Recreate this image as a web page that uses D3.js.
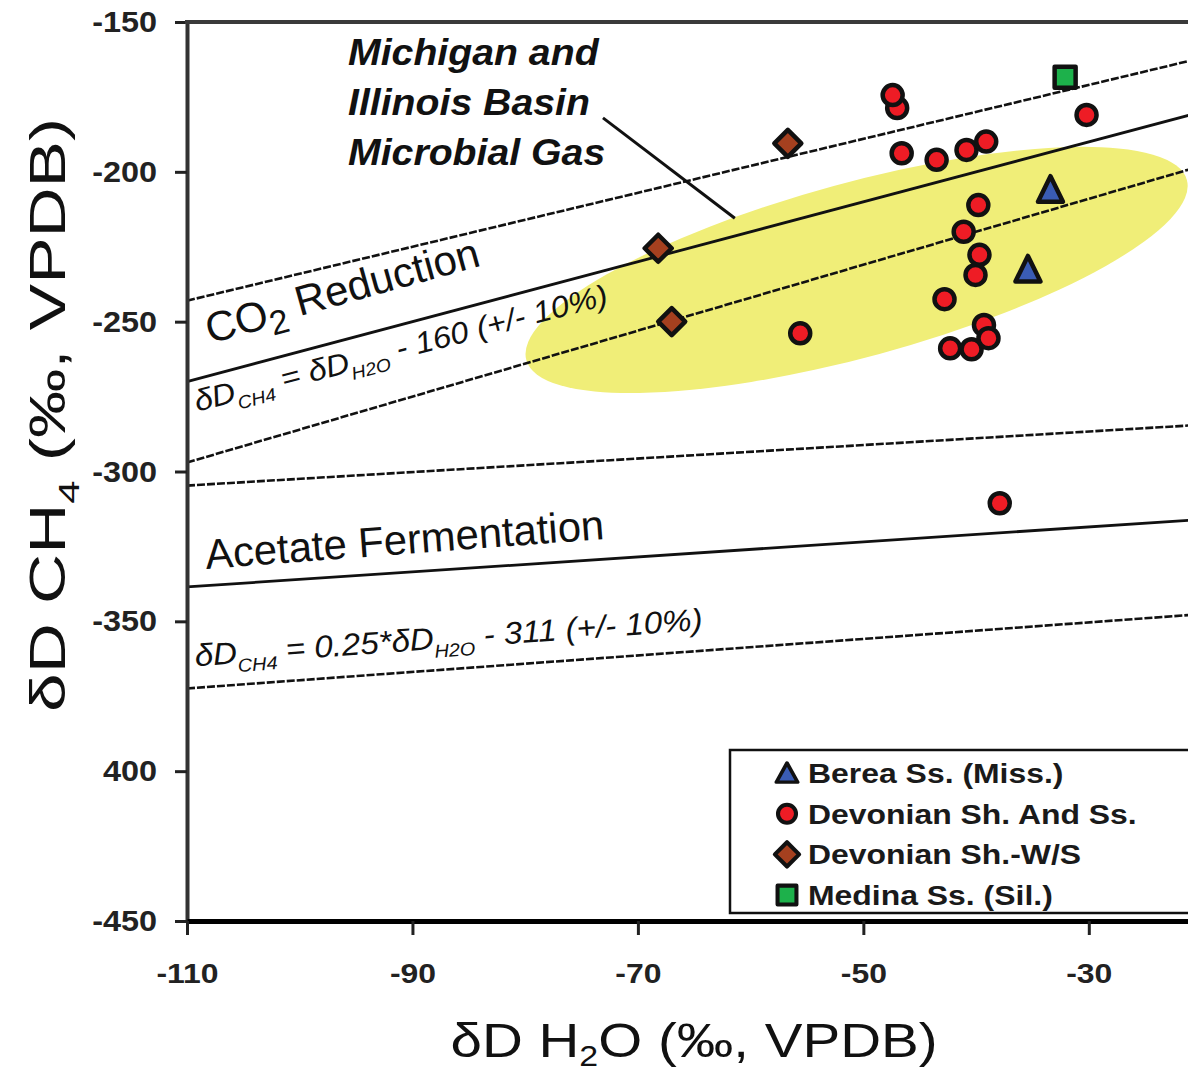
<!DOCTYPE html>
<html>
<head>
<meta charset="utf-8">
<script src="https://cdn.jsdelivr.net/npm/d3@7"></script>
<style>
  body { margin: 0; background: #fff; }
  svg { display: block; font-family: "Liberation Sans", Arial, sans-serif; }
</style>
</head>
<body>
<svg id="chart" width="1188" height="1072"></svg>
<script>
/* Data */
const xTicks = [-110, -90, -70, -50, -30];
const yTicks = [-150, -200, -250, -300, -350, -400, -450];
const yTickLabels = ['-150', '-200', '-250', '-300', '-350', '400', '-450'];

// [dD H2O, dD CH4]
const berea = [[-33.4, -206.8], [-35.4, -233.4]];
const devonian = [
  [-47.0, -178.7], [-47.4, -174.4], [-30.2, -181.0], [-46.6, -193.8],
  [-43.5, -196.0], [-40.85, -192.7], [-39.1, -189.9], [-39.8, -211.1],
  [-41.1, -220.0], [-39.7, -227.7], [-40.05, -234.4], [-42.8, -242.5],
  [-55.6, -253.9], [-42.3, -258.9], [-40.4, -259.2], [-39.3, -251.1],
  [-38.9, -255.5], [-37.9, -310.6]
];
const devonianWS = [[-56.7, -190.5], [-68.2, -225.5], [-67.0, -250.0]];
const medina = [[-32.1, -168.4]];

const legendLabels = ['Berea Ss. (Miss.)', 'Devonian Sh. And Ss.', 'Devonian Sh.-W/S', 'Medina Ss. (Sil.)'];
const legendShapes = ['triangle', 'circle', 'diamond', 'square'];

// reference lines, values read at dD H2O = -110 and -20
const lineX = [-110, -20];
const co2Upper = [-243, -162];
const co2Mid = [-270, -180];
const co2Lower = [-297, -198];
const acUpper = [-304.7, -284.4];
const acMid = [-338.5, -316];
const acLower = [-372.4, -347.6];

// yellow field: ends of its long axis
const fieldX = [-79.9, -21.3];
const fieldY = [-262.8, -202.7];

// leader from the annotation to the CO2 line
const leaderX = [-73.1, -61.4];
const leaderY = [-182.0, -215.5];

/* Setup */
const svg = d3.select('#chart');
const x = d3.scaleLinear().domain([-110, -21.2]).range([187, 1188]);
const y = d3.scaleLinear().domain([-150, -450]).range([22, 921]);

const colors = { triangle: '#3a5cb4', circle: '#ee1c25', diamond: '#a5401f', square: '#1db14b' };

function stretch(sel, k) {
  sel.each(function () {
    const len = this.getComputedTextLength();
    d3.select(this).attr('textLength', len * k).attr('lengthAdjust', 'spacingAndGlyphs');
  });
}

function markerPath(shape) {
  if (shape === 'triangle') return 'M0,-16L12.5,9.5L-12.5,9.5Z';
  if (shape === 'diamond') return 'M0,-13.5L13.5,0L0,13.5L-13.5,0Z';
  if (shape === 'square') return 'M-10.5,-10.5H10.5V10.5H-10.5Z';
  return d3.arc()({ innerRadius: 0, outerRadius: 10, startAngle: 0, endAngle: 2 * Math.PI });
}

function drawMarkers(data, shape) {
  svg.append('g')
    .selectAll('path')
    .data(data)
    .join('path')
    .attr('d', markerPath(shape))
    .attr('transform', (d) => `translate(${x(d[0])},${y(d[1])})`)
    .attr('fill', colors[shape])
    .attr('stroke', '#111')
    .attr('stroke-width', 4.5)
    .attr('stroke-linejoin', 'round');
}

// rich text with subscripts
function richText(g, parts, size, drop = 0.28) {
  const t = g.append('text').attr('font-size', size);
  let shifted = 0;
  parts.forEach((p) => {
    const sp = t.append('tspan').text(p.t);
    if (p.sub) {
      sp.attr('font-size', size * 0.6).attr('dy', size * drop);
      shifted = size * drop;
    } else if (shifted) {
      sp.attr('dy', -shifted);
      shifted = 0;
    }
  });
  return t;
}

/* Yellow field */
{
  const x1 = x(fieldX[0]), y1 = y(fieldY[0]), x2 = x(fieldX[1]), y2 = y(fieldY[1]);
  const ang = Math.atan2(y2 - y1, x2 - x1) * 180 / Math.PI;
  svg.append('ellipse')
    .attr('cx', 0).attr('cy', 0)
    .attr('rx', Math.hypot(x2 - x1, y2 - y1) / 2)
    .attr('ry', 87)
    .attr('transform', `translate(${(x1 + x2) / 2},${(y1 + y2) / 2}) rotate(${ang})`)
    .attr('fill', '#f0ee78');
}

/* Reference lines */
const refLines = [
  { y: co2Upper, dash: true }, { y: co2Mid, dash: false }, { y: co2Lower, dash: true },
  { y: acUpper, dash: true }, { y: acMid, dash: false }, { y: acLower, dash: true }
];
svg.append('g')
  .selectAll('line')
  .data(refLines)
  .join('line')
  .attr('x1', x(lineX[0])).attr('x2', x(lineX[1]))
  .attr('y1', (d) => y(d.y[0])).attr('y2', (d) => y(d.y[1]))
  .attr('stroke', '#111')
  .attr('stroke-width', (d) => d.dash ? 2.6 : 2.8)
  .attr('stroke-dasharray', (d) => d.dash ? '8,2' : null);

svg.append('line')
  .attr('x1', x(leaderX[0])).attr('y1', y(leaderY[0]))
  .attr('x2', x(leaderX[1])).attr('y2', y(leaderY[1]))
  .attr('stroke', '#111')
  .attr('stroke-width', 3);

/* Axes */
const yAxis = svg.append('g')
  .attr('transform', `translate(${x(-110)},0)`)
  .call(d3.axisLeft(y).tickValues(yTicks).tickFormat((d, i) => yTickLabels[i])
    .tickSize(12).tickSizeOuter(0).tickPadding(18));
yAxis.select('.domain').attr('stroke', '#333').attr('stroke-width', 4);
yAxis.selectAll('.tick line').attr('stroke', '#222').attr('stroke-width', 3);
yAxis.selectAll('.tick text')
  .attr('font-size', 30).attr('font-weight', 'bold').attr('fill', '#222')
  .attr('font-family', '"Liberation Sans", Arial, sans-serif');
stretch(yAxis.selectAll('.tick text'), 1.08);

const xAxis = svg.append('g')
  .attr('transform', `translate(0,${y(-450)})`)
  .call(d3.axisBottom(x).tickValues(xTicks).tickFormat((d) => String(d))
    .tickSize(14).tickSizeOuter(0).tickPadding(28));
xAxis.select('.domain').attr('stroke', '#000').attr('stroke-width', 5);
xAxis.selectAll('.tick line').attr('stroke', '#222').attr('stroke-width', 3);
xAxis.selectAll('.tick text')
  .attr('font-size', 28).attr('font-weight', 'bold').attr('fill', '#222')
  .attr('font-family', '"Liberation Sans", Arial, sans-serif');
stretch(xAxis.selectAll('.tick text'), 1.14);

// top frame line
svg.append('line')
  .attr('x1', x(-110) - 2).attr('x2', x(-21.2))
  .attr('y1', y(-150)).attr('y2', y(-150))
  .attr('stroke', '#3a3a3a').attr('stroke-width', 4);

/* Axis titles */
{
  const g = svg.append('g').attr('transform', 'translate(65,415) rotate(-90)');
  const t = richText(g, [{ t: 'δD CH' }, { t: '4', sub: true }, { t: ' (‰, VPDB)' }], 50)
    .attr('text-anchor', 'middle').attr('fill', '#111');
  t.attr('textLength', 594).attr('lengthAdjust', 'spacingAndGlyphs');
}
{
  const g = svg.append('g').attr('transform', 'translate(694,1057)');
  const t = richText(g, [{ t: 'δD H' }, { t: '2', sub: true }, { t: 'O (‰, VPDB)' }], 48, 0.18)
    .attr('text-anchor', 'middle').attr('fill', '#111');
  t.attr('textLength', 487).attr('lengthAdjust', 'spacingAndGlyphs');
}

/* Annotations */
{
  const g = svg.append('g').attr('font-style', 'italic').attr('font-weight', 'bold').attr('fill', '#111');
  const lines = ['Michigan and', 'Illinois Basin', 'Microbial Gas'];
  const tx = g.selectAll('text').data(lines).join('text')
    .attr('x', 348).attr('y', (d, i) => 65 + i * 50)
    .attr('font-size', 37)
    .text((d) => d);
  stretch(tx, 1.06);
}

function rotatedLabel(px, py, angle, parts, size, style, width) {
  const g = svg.append('g').attr('transform', `translate(${px},${py}) rotate(${angle})`);
  const t = richText(g, parts, size).attr('fill', '#111');
  if (style) t.attr('font-style', style);
  t.attr('textLength', width).attr('lengthAdjust', 'spacingAndGlyphs');
  return t;
}

rotatedLabel(x(-107.96), y(-257.4), -15.5,
  [{ t: 'CO' }, { t: '2', sub: true }, { t: ' Reduction' }], 42, null, 283)
  .select('tspan:nth-child(2)').attr('font-size', 34).attr('dy', 9);
rotatedLabel(x(-109.1), y(-280.1), -14.6,
  [{ t: 'δD' }, { t: 'CH4', sub: true }, { t: ' = δD' }, { t: 'H2O', sub: true }, { t: ' - 160 (+/- 10%)' }],
  30, 'italic', 426);
rotatedLabel(x(-108.3), y(-332.5), -4.3,
  [{ t: 'Acetate Fermentation' }], 42, null, 400);
rotatedLabel(x(-109.25), y(-365.0), -4.1,
  [{ t: 'δD' }, { t: 'CH4', sub: true }, { t: ' = 0.25*δD' }, { t: 'H2O', sub: true }, { t: ' - 311 (+/- 10%)' }],
  31, 'italic', 509);

/* Samples */
drawMarkers(devonianWS, 'diamond');
drawMarkers(berea, 'triangle');
drawMarkers(devonian, 'circle');
drawMarkers(medina, 'square');

/* Legend */
{
  const g = svg.append('g');
  g.append('rect')
    .attr('x', 730).attr('y', 750).attr('width', 480).attr('height', 163)
    .attr('fill', '#fff').attr('stroke', '#111').attr('stroke-width', 2.5);
  const rows = g.selectAll('g.row').data(legendLabels).join('g')
    .attr('class', 'row')
    .attr('transform', (d, i) => `translate(787,${773 + i * 40.7})`);
  rows.append('path')
    .attr('d', (d, i) => markerPath(legendShapes[i]))
    .attr('transform', (d, i) => legendShapes[i] === 'triangle' ? 'translate(0,2) scale(0.85,0.75)' : 'scale(0.9)')
    .attr('fill', (d, i) => colors[legendShapes[i]])
    .attr('stroke', '#111').attr('stroke-width', 4.5).attr('stroke-linejoin', 'round');
  const lt = rows.append('text')
    .attr('x', 21).attr('y', 10)
    .attr('font-size', 28).attr('font-weight', 'bold').attr('fill', '#1a1a1a')
    .text((d) => d);
  stretch(lt, 1.14);
}
</script>
</body>
</html>
